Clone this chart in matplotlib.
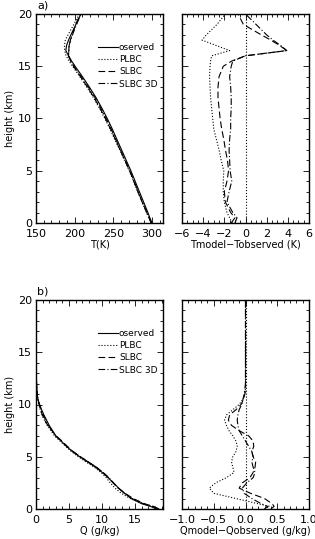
import numpy as np
import matplotlib
matplotlib.use("Agg")
import matplotlib.pyplot as plt
from matplotlib.ticker import MultipleLocator

plt.rcParams['font.family'] = ['DejaVu Sans']
plt.rcParams['font.size'] = 7.5

# ---- temperature profiles (km, K) ----
z_t = [0, 0.5, 1, 2, 3, 4, 5, 6, 7, 8, 9, 10, 11, 12, 13, 14, 15, 15.5, 16,
       16.5, 17, 17.5, 18, 19, 20]
t_obs = [300, 297, 294.5, 289, 283.5, 278, 272.5, 266.5, 260.5, 254.5, 248.5,
         242, 235, 227.5, 219, 210, 200.5, 196, 192, 188.5, 189.5, 192, 195,
         201.5, 208]
dt_plbc = [-1.25, -1.5, -1.75, -2.0, -2.1, -2.1, -2.05, -2.3, -2.5, -2.75, -3.0,
           -3.1, -3.2, -3.3, -3.35, -3.4, -3.35, -3.3, -3.2, -1.5, -2.8, -4.1,
           -3.7, -2.7, -1.9]
dt_slbc = [-1.35, -1.0, -1.4, -1.9, -2.0, -1.75, -1.6, -1.7, -1.9, -2.05, -2.25,
           -2.4, -2.5, -2.6, -2.6, -2.5, -2.1, -1.3, 0.0, 3.9, 3.2, 2.4, 1.5,
           -0.2, -0.7]
dt_slbc3d = [-1.0, -0.8, -1.2, -1.75, -1.55, -1.3, -1.45, -1.5, -1.55, -1.5, -1.4,
             -1.4, -1.35, -1.35, -1.4, -1.5, -1.35, -1.2, 0.0, 3.9, 3.3, 2.6, 2.0,
             1.0, 0.0]

# ---- humidity profiles (km, g/kg) ----
z_q = [0, 0.25, 0.5, 1, 1.5, 2, 2.5, 3, 3.5, 4, 4.5, 5, 5.5, 6, 6.5, 7, 7.5, 8,
       8.5, 9, 9.5, 10, 10.5, 11, 11.5, 12, 13, 14, 16, 18, 20]
q_obs = [18.2, 17.3, 16.0, 14.4, 13.4, 12.5, 11.7, 10.9, 10.0, 9.0, 7.8, 6.6,
         5.5, 4.6, 3.8, 3.0, 2.5, 2.0, 1.6, 1.2, 0.85, 0.55, 0.3, 0.18, 0.12,
         0.08, 0.04, 0.02, 0.01, 0.005, 0.003]
dq_plbc = [0.3, 0.38, 0.2, -0.15, -0.5, -0.57, -0.47, -0.3, -0.18, -0.2, -0.22,
           -0.2, -0.15, -0.13, -0.15, -0.2, -0.26, -0.3, -0.33, -0.3, -0.2, -0.1,
           -0.04, -0.01, 0, 0, 0, 0, 0, 0, 0]
dq_slbc = [0.4, 0.45, 0.42, 0.3, 0.08, -0.1, -0.05, 0.07, 0.12, 0.15, 0.16, 0.12,
           0.1, 0.13, 0.12, 0.05, -0.1, -0.22, -0.27, -0.25, -0.15, -0.07, -0.03,
           -0.01, 0, 0, 0, 0, 0, 0, 0]
dq_slbc3d = [0.3, 0.35, 0.25, 0.1, -0.02, -0.05, 0.02, 0.12, 0.15, 0.12, 0.1,
             0.12, 0.1, 0.05, 0.0, -0.05, -0.1, -0.12, -0.13, -0.12, -0.1, -0.06,
             -0.04, -0.02, -0.01, 0, 0, 0, 0, 0, 0]

names = ['oserved', 'PLBC', 'SLBC', 'SLBC 3D']
styles = ['-', ':', (0, (6, 3)), (0, (6, 2, 1, 2))]
lw = 0.8

W, H = 315, 539
fig = plt.figure(figsize=(W / 100, H / 100), dpi=100)


def box(l, r, t, b):
    return fig.add_axes([l / W, 1 - b / H, (r - l) / W, (b - t) / H])


def style(ax, xmaj, xmin, ylabels=True):
    ax.set_ylim(0, 20)
    ax.yaxis.set_major_locator(MultipleLocator(5))
    ax.yaxis.set_minor_locator(MultipleLocator(1))
    ax.xaxis.set_major_locator(MultipleLocator(xmaj))
    ax.xaxis.set_minor_locator(MultipleLocator(xmin))
    ax.tick_params(which='both', direction='in', top=True, right=True,
                   labelsize=8)
    ax.tick_params(axis='x', pad=4)
    ax.tick_params(axis='y', pad=3)
    ax.tick_params(which='major', length=4, width=0.6)
    ax.tick_params(which='minor', length=2, width=0.6)
    if not ylabels:
        ax.set_yticklabels([])
    for s in ax.spines.values():
        s.set_linewidth(1.0)


# a) temperature
ax1 = box(36, 163, 14, 223)
t_obs_a = np.array(t_obs)
profiles = [t_obs_a, t_obs_a + np.array(dt_plbc), t_obs_a + np.array(dt_slbc),
            t_obs_a + np.array(dt_slbc3d)]
for p, ls, nm in zip(profiles, styles, names):
    ax1.plot(p, z_t, color='black', ls=ls, lw=lw, label=nm)
ax1.set_xlim(150, 314)
style(ax1, 50, 10)
ax1.set_xlabel('T(K)', labelpad=1, fontsize=7)
ax1.set_ylabel('height (km)', labelpad=2, fontsize=7)
ax1.legend(loc='upper right', bbox_to_anchor=(1.02, 0.9), frameon=False,
           fontsize=6.5, handlelength=2.2, handletextpad=0.1, labelspacing=0.35)
fig.text(37 / W, 1 - 6 / H, 'a)', fontsize=8, va='center')

ax2 = box(182, 309, 14, 223)
for d, ls in zip([dt_plbc, dt_slbc, dt_slbc3d], styles[1:]):
    ax2.plot(d, z_t, color='black', ls=ls, lw=lw)
ax2.axvline(0, color='black', ls=':', lw=lw)
ax2.set_xlim(-6, 6)
style(ax2, 2, 0.5, ylabels=False)
ax2.set_xlabel('Tmodel\u2212Tobserved (K)', labelpad=1, fontsize=7)

# b) humidity
ax3 = box(36, 163, 300, 509)
q_obs_a = np.array(q_obs)
profiles = [q_obs_a, q_obs_a + np.array(dq_plbc), q_obs_a + np.array(dq_slbc),
            q_obs_a + np.array(dq_slbc3d)]
for p, ls, nm in zip(profiles, styles, names):
    ax3.plot(p, z_q, color='black', ls=ls, lw=lw, label=nm)
ax3.set_xlim(0, 19.2)
style(ax3, 5, 1)
ax3.set_xlabel('Q (g/kg)', labelpad=1, fontsize=7)
ax3.set_ylabel('height (km)', labelpad=2, fontsize=7)
ax3.legend(loc='upper right', bbox_to_anchor=(1.02, 0.9), frameon=False,
           fontsize=6.5, handlelength=2.2, handletextpad=0.1, labelspacing=0.35)
fig.text(37 / W, 1 - 291 / H, 'b)', fontsize=8, va='center')

ax4 = box(182, 309, 300, 509)
for d, ls in zip([dq_plbc, dq_slbc, dq_slbc3d], styles[1:]):
    ax4.plot(d, z_q, color='black', ls=ls, lw=lw)
ax4.axvline(0, color='black', ls=':', lw=lw)
ax4.set_xlim(-1, 1)
style(ax4, 0.5, 0.1, ylabels=False)
ax4.set_xticks([-1, -0.5, 0, 0.5, 1])
ax4.set_xticklabels(['\u22121.0', '\u22120.5', '0.0', '0.5', '1.0'])
ax4.set_xlabel('Qmodel\u2212Qobserved (g/kg)', labelpad=1, fontsize=7)

fig.savefig('out.png', dpi=100)
